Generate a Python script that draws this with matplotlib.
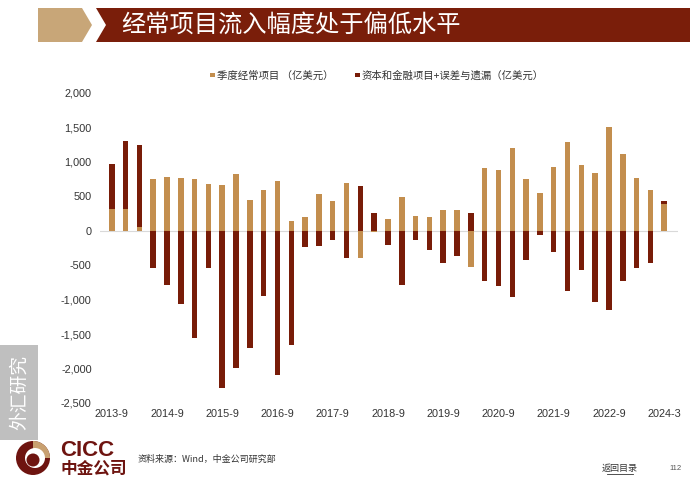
import matplotlib.pyplot as plt
from matplotlib.patches import Polygon, Rectangle, Circle, Wedge
from matplotlib.ticker import FuncFormatter

plt.rcParams['font.family'] = ['Liberation Sans', 'Noto Sans CJK SC', 'DejaVu Sans']

# quarterly values, 100 million USD
current_account = [320, 320, 48, 746, 785, 765, 746, 673, 663, 828,
                   446, 586, 717, 136, 203, 533, 431, 697, -397, -22,
                   165, 484, 218, 199, 300, 300, -528, 906, 886, 1201,
                   755, 552, 925, 1288, 959, 838, 1511, 1109, 765, 586,
                   392]
capital_financial = [648, 987, 1200, -542, -794, -1070, -1560, -547, -2281, -1995,
                     -1695, -940, -2087, -1651, -242, -223, -136, -397, 654, 262,
                     -208, -780, -131, -276, -465, -368, 262, -726, -799, -959,
                     -421, -63, -310, -877, -576, -1032, -1143, -731, -547, -465,
                     40]
tick_labels = ['2013-9', '2014-9', '2015-9', '2016-9', '2017-9', '2018-9',
               '2019-9', '2020-9', '2021-9', '2022-9', '2024-3']

TAN = '#C38E4E'
DARK = '#781C08'

fig = plt.figure(figsize=(7, 4.9), dpi=100)

# page decoration in pixel coords
bg = fig.add_axes([0, 0, 1, 1])
bg.set_xlim(0, 700)
bg.set_ylim(490, 0)
bg.axis('off')
bg.add_patch(Polygon([(38, 8), (82, 8), (92, 25), (82, 42), (38, 42)], closed=True,
                     color='#C8A678', lw=0))
bg.add_patch(Polygon([(96, 8), (690, 8), (690, 42), (96, 42), (106, 25)], closed=True,
                     color='#7A1E0A', lw=0))
bg.text(121, 26, '经常项目流入幅度处于偏低水平', color='white', fontsize=17.5,
        family=['Noto Sans CJK SC'], va='center', ha='left')

# side label
bg.add_patch(Rectangle((0, 345), 38, 95, color='#BFBFBF', lw=0))
bg.text(19, 392, '外汇研究', color='white', fontsize=13.5, rotation=90,
        family=['Noto Sans CJK SC'], va='center', ha='center')

# logo
bg.add_patch(Circle((33, 458), 17, color='#6E1410', lw=0))
bg.add_patch(Wedge((33, 458), 17, 270, 360, color='#C8A070', lw=0))
bg.add_patch(Circle((35, 458), 10, color='white', lw=0))
bg.add_patch(Circle((33, 460), 6.5, color='#6E1410', lw=0))
bg.text(60, 450, 'CICC', color='#6E1410', fontsize=16, fontweight='bold',
        va='center', ha='left')
bg.text(60, 468, '中金公司', color='#6E1410', fontsize=12, fontweight='bold',
        family=['Noto Sans CJK SC'], va='center', ha='left')
bg.text(138, 459, '资料来源：Wind，中金公司研究部', color='#333333', fontsize=6.5,
        family=['Noto Sans CJK SC', 'DejaVu Sans'], va='center', ha='left')
bg.text(620, 468, '返回目录', color='#333333', fontsize=6.5,
        family=['Noto Sans CJK SC'], va='center', ha='center')
bg.plot([607, 633], [474, 474], color='#333333', lw=0.6)
bg.text(676, 468, '112', color='#555555', fontsize=5.5, va='center', ha='center')

# legend
bg.add_patch(Rectangle((210, 73), 4.5, 4.5, color=TAN, lw=0))
bg.text(217, 76, '季度经常项目 （亿美元）', color='#333333', fontsize=7.5,
        family=['Noto Sans CJK SC'], va='center', ha='left')
bg.add_patch(Rectangle((355, 73), 4.5, 4.5, color=DARK, lw=0))
bg.text(362, 76, '资本和金融项目+误差与遗漏（亿美元）', color='#333333', fontsize=7.5,
        family=['Noto Sans CJK SC'], va='center', ha='left')

# chart
ax = fig.add_axes([100 / 700, 1 - 403 / 490, 578 / 700, 310 / 490])
ax.patch.set_alpha(0)
x = list(range(len(current_account)))
w = 0.4
for i in x:
    ca = current_account[i]
    cf = capital_financial[i]
    pos_base = 0
    neg_base = 0
    for val, col in ((ca, TAN), (cf, DARK)):
        if val >= 0:
            ax.bar(i, val, width=w, bottom=pos_base, color=col, lw=0)
            pos_base += val
        else:
            ax.bar(i, val, width=w, bottom=neg_base, color=col, lw=0)
            neg_base += val

ax.axhline(0, color='#D9D9D9', lw=0.8, zorder=0)
ax.set_xlim(-0.85, 41.0)
ax.set_ylim(-2500, 2000)
ax.set_yticks(range(-2500, 2001, 500))
ax.yaxis.set_major_formatter(FuncFormatter(lambda v, p: f'{int(v):,}'))
ax.set_xticks(x[::4])
ax.set_xticklabels(tick_labels)
ax.tick_params(length=0, labelsize=7.8, colors='#333333')
ax.tick_params(axis='y', pad=6)
ax.tick_params(axis='x', pad=4)
for s in ax.spines.values():
    s.set_visible(False)

fig.savefig('out.png', dpi=100)
